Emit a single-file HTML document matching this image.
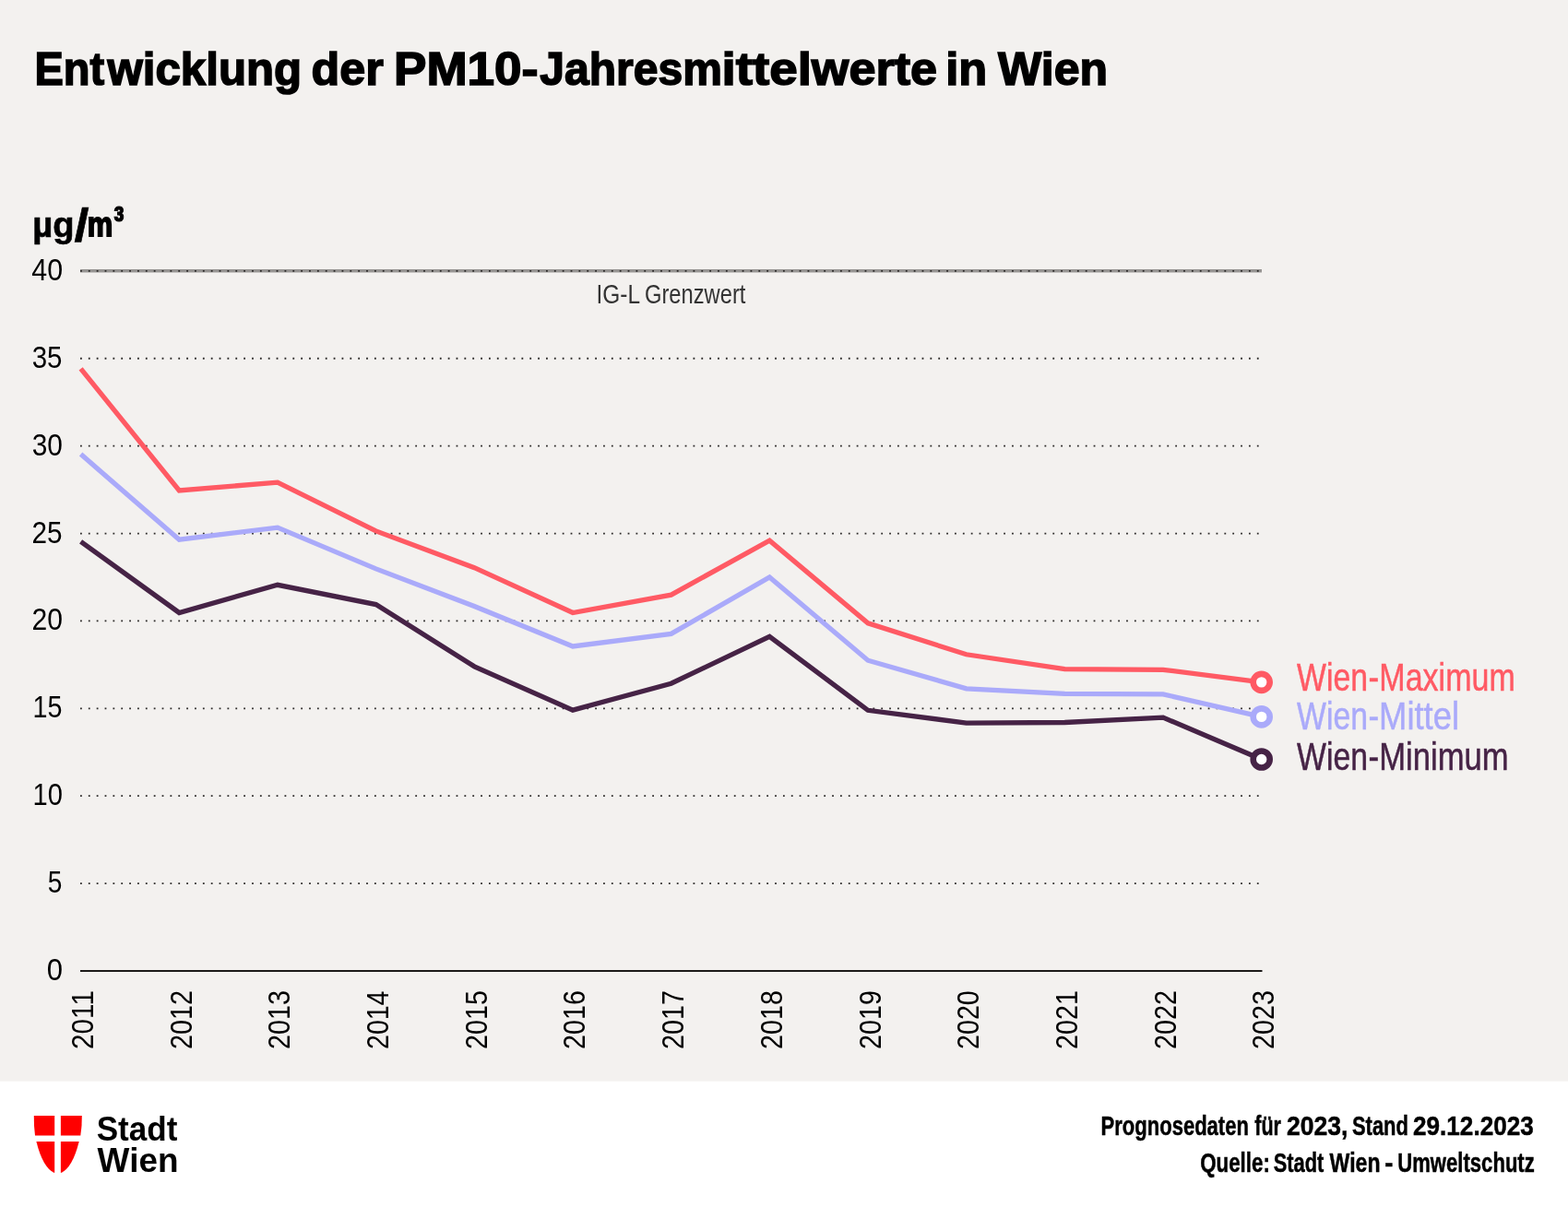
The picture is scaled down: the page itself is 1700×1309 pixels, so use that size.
<!DOCTYPE html>
<html lang="de">
<head>
<meta charset="utf-8">
<title>Entwicklung der PM10-Jahresmittelwerte in Wien</title>
<style>
html,body{margin:0;padding:0;background:#fff}
svg{display:block}
text{font-family:"Liberation Sans",sans-serif}
</style>
</head>
<body>
<svg width="1700" height="1309" viewBox="0 0 1700 1309">
<rect x="0" y="0" width="1700" height="1309" fill="#fff"/>
<rect x="0" y="0" width="1700" height="1172.6" fill="#f3f1ef"/>
<g id="grid">
<line x1="87.0" y1="293.72" x2="1368.0" y2="293.72" stroke="#979593" stroke-width="3.35"/>
<line x1="87.0" y1="293.84" x2="1368.0" y2="293.84" stroke="#2d2b2a" stroke-width="1.8" stroke-dasharray="1.8 7.06"/>
<line x1="87.0" y1="388.74" x2="1368.0" y2="388.74" stroke="#2d2b2a" stroke-width="1.8" stroke-dasharray="1.8 7.06"/>
<line x1="87.0" y1="483.63" x2="1368.0" y2="483.63" stroke="#2d2b2a" stroke-width="1.8" stroke-dasharray="1.8 7.06"/>
<line x1="87.0" y1="578.53" x2="1368.0" y2="578.53" stroke="#2d2b2a" stroke-width="1.8" stroke-dasharray="1.8 7.06"/>
<line x1="87.0" y1="673.42" x2="1368.0" y2="673.42" stroke="#2d2b2a" stroke-width="1.8" stroke-dasharray="1.8 7.06"/>
<line x1="87.0" y1="768.32" x2="1368.0" y2="768.32" stroke="#2d2b2a" stroke-width="1.8" stroke-dasharray="1.8 7.06"/>
<line x1="87.0" y1="863.21" x2="1368.0" y2="863.21" stroke="#2d2b2a" stroke-width="1.8" stroke-dasharray="1.8 7.06"/>
<line x1="87.0" y1="958.11" x2="1368.0" y2="958.11" stroke="#2d2b2a" stroke-width="1.8" stroke-dasharray="1.8 7.06"/>
<line x1="87.0" y1="1053" x2="1368.5" y2="1053" stroke="#1c1a19" stroke-width="2"/>
</g>
<g id="series">
<polyline points="87.60,399.80 194.28,532.00 300.95,523.10 407.62,575.90 514.30,615.70 620.98,664.50 727.65,645.10 834.33,586.20 941.00,675.85 1047.68,709.75 1154.35,725.60 1261.03,726.30 1367.70,739.85" fill="none" stroke="#ff5a64" stroke-width="5.3" stroke-linejoin="miter" stroke-miterlimit="10"/>
<circle cx="1367.70" cy="739.85" r="9" fill="#fff" stroke="#ff5a64" stroke-width="6.6"/>
<polyline points="87.60,492.60 194.28,585.20 300.95,572.10 407.62,616.90 514.30,657.50 620.98,701.00 727.65,687.40 834.33,625.90 941.00,716.20 1047.68,746.80 1154.35,752.40 1261.03,752.85 1367.70,777.40" fill="none" stroke="#aaaafa" stroke-width="5.3" stroke-linejoin="miter" stroke-miterlimit="10"/>
<circle cx="1367.70" cy="777.40" r="9" fill="#fff" stroke="#aaaafa" stroke-width="6.6"/>
<polyline points="87.60,587.40 194.28,664.50 300.95,634.30 407.62,655.60 514.30,722.80 620.98,770.10 727.65,741.20 834.33,690.40 941.00,770.30 1047.68,784.10 1154.35,783.50 1261.03,778.10 1367.70,823.50" fill="none" stroke="#462346" stroke-width="5.3" stroke-linejoin="miter" stroke-miterlimit="10"/>
<circle cx="1367.70" cy="823.50" r="9" fill="#fff" stroke="#462346" stroke-width="6.6"/>
</g>
<g id="shield" fill="#ff0000">
<path d="M36.8 1210 H59.2 V1231.5 H38.0 Q36.6 1221 36.8 1210Z"/>
<path d="M65.9 1210 H88.8 Q89.0 1221 87.3 1231.5 H65.9Z"/>
<path d="M39.4 1237.9 H59.2 V1272.1 Q46.5 1266.5 39.4 1237.9Z"/>
<path d="M65.9 1237.9 H85.7 Q78.6 1266.5 65.9 1272.1Z"/>
</g>
<g id="labels">
<text id="title" y="91.60" font-size="50.73" font-weight="bold" fill="#000" stroke="#000" stroke-width="1.6" stroke-linejoin="miter"><tspan x="37.48" textLength="75.74" lengthAdjust="spacingAndGlyphs">Ent</tspan><tspan x="116.51" textLength="210.61" lengthAdjust="spacingAndGlyphs">wicklung</tspan> <tspan x="337.56" textLength="78.18" lengthAdjust="spacingAndGlyphs">der</tspan> <tspan x="427.09" textLength="138.52" lengthAdjust="spacingAndGlyphs">PM10</tspan><tspan x="565.46" textLength="18.06" lengthAdjust="spacingAndGlyphs">-</tspan><tspan x="585.24" textLength="197.64" lengthAdjust="spacingAndGlyphs">Jahresm</tspan><tspan x="782.43" textLength="97.46" lengthAdjust="spacingAndGlyphs">ittel</tspan><tspan x="879.89" textLength="136.24" lengthAdjust="spacingAndGlyphs">werte</tspan> <tspan x="1025.25" textLength="45.08" lengthAdjust="spacingAndGlyphs">in</tspan> <tspan x="1081.99" textLength="119.20" lengthAdjust="spacingAndGlyphs">Wien</tspan></text>
<text id="unit" y="256.50" font-size="38" font-weight="bold" fill="#000" stroke="#000" stroke-width="0.6" stroke-linejoin="miter"><tspan x="35.34" y="256.50" textLength="45.33" lengthAdjust="spacingAndGlyphs">µg</tspan><tspan x="80.60" y="261.40" font-size="50.0" textLength="15.99" lengthAdjust="spacingAndGlyphs">/</tspan><tspan x="94.77" y="255.90" font-size="36.0" stroke="#000" stroke-width="1.8" textLength="27.50" lengthAdjust="spacingAndGlyphs">m</tspan><tspan x="123.15" y="254.90" font-size="45.0" stroke="#000" stroke-width="1.2" textLength="11.31" lengthAdjust="spacingAndGlyphs">³</tspan></text>
<text id="y40" y="303.84" font-size="32.5" font-weight="normal" fill="#000"><tspan x="34.30" textLength="33.78" lengthAdjust="spacingAndGlyphs">40</tspan></text>
<text id="y35" y="398.74" font-size="32.5" font-weight="normal" fill="#000"><tspan x="34.67" textLength="32.81" lengthAdjust="spacingAndGlyphs">35</tspan></text>
<text id="y30" y="493.63" font-size="32.5" font-weight="normal" fill="#000"><tspan x="34.65" textLength="33.21" lengthAdjust="spacingAndGlyphs">30</tspan></text>
<text id="y25" y="588.53" font-size="32.5" font-weight="normal" fill="#000"><tspan x="34.43" textLength="33.06" lengthAdjust="spacingAndGlyphs">25</tspan></text>
<text id="y20" y="683.42" font-size="32.5" font-weight="normal" fill="#000"><tspan x="34.41" textLength="33.46" lengthAdjust="spacingAndGlyphs">20</tspan></text>
<text id="y15" y="778.32" font-size="32.5" font-weight="normal" fill="#000"><tspan x="35.49" textLength="31.95" lengthAdjust="spacingAndGlyphs">15</tspan></text>
<text id="y10" y="873.21" font-size="32.5" font-weight="normal" fill="#000"><tspan x="35.46" textLength="32.37" lengthAdjust="spacingAndGlyphs">10</tspan></text>
<text id="y5" y="968.11" font-size="32.5" font-weight="normal" fill="#000"><tspan x="51.72" textLength="15.63" lengthAdjust="spacingAndGlyphs">5</tspan></text>
<text id="y0" y="1063.00" font-size="32.5" font-weight="normal" fill="#000"><tspan x="50.81" textLength="17.26" lengthAdjust="spacingAndGlyphs">0</tspan></text>
<text id="igl" y="328.90" font-size="29.0" font-weight="normal" fill="#333"><tspan x="646.53" textLength="46.62" lengthAdjust="spacingAndGlyphs">IG-L</tspan> <tspan x="698.97" textLength="109.44" lengthAdjust="spacingAndGlyphs">Grenzwert</tspan></text>
<text id="leg1" y="748.65" font-size="42.5" font-weight="normal" fill="#ff5a64" stroke="#ff5a64" stroke-width="0.5" stroke-linejoin="miter"><tspan x="1406.00" textLength="76.96" lengthAdjust="spacingAndGlyphs">Wien</tspan><tspan x="1483.46" textLength="11.71" lengthAdjust="spacingAndGlyphs">-</tspan><tspan x="1495.30" textLength="147.56" lengthAdjust="spacingAndGlyphs">Maximum</tspan></text>
<text id="leg2" y="791.35" font-size="42.5" font-weight="normal" fill="#aaaafa" stroke="#aaaafa" stroke-width="0.5" stroke-linejoin="miter"><tspan x="1406.00" textLength="76.96" lengthAdjust="spacingAndGlyphs">Wien</tspan><tspan x="1483.46" textLength="11.71" lengthAdjust="spacingAndGlyphs">-</tspan><tspan x="1495.12" textLength="86.86" lengthAdjust="spacingAndGlyphs">Mittel</tspan></text>
<text id="leg3" y="834.75" font-size="42.5" font-weight="normal" fill="#462346" stroke="#462346" stroke-width="0.5" stroke-linejoin="miter"><tspan x="1406.00" textLength="76.96" lengthAdjust="spacingAndGlyphs">Wien</tspan><tspan x="1483.46" textLength="11.71" lengthAdjust="spacingAndGlyphs">-</tspan><tspan x="1495.25" textLength="140.38" lengthAdjust="spacingAndGlyphs">Minimum</tspan></text>
<text id="x2011" transform="matrix(0 -0.8873 1 0 101.10 1137.95)" font-size="33.5" font-weight="normal" fill="#000">2011</text>
<text id="x2012" transform="matrix(0 -0.8592 1 0 207.78 1137.90)" font-size="33.5" font-weight="normal" fill="#000">2012</text>
<text id="x2013" transform="matrix(0 -0.8561 1 0 314.45 1137.90)" font-size="33.5" font-weight="normal" fill="#000">2013</text>
<text id="x2014" transform="matrix(0 -0.8502 1 0 421.12 1137.89)" font-size="33.5" font-weight="normal" fill="#000">2014</text>
<text id="x2015" transform="matrix(0 -0.8561 1 0 527.80 1137.90)" font-size="33.5" font-weight="normal" fill="#000">2015</text>
<text id="x2016" transform="matrix(0 -0.8561 1 0 634.48 1137.90)" font-size="33.5" font-weight="normal" fill="#000">2016</text>
<text id="x2017" transform="matrix(0 -0.8592 1 0 741.15 1137.90)" font-size="33.5" font-weight="normal" fill="#000">2017</text>
<text id="x2018" transform="matrix(0 -0.8561 1 0 847.83 1137.90)" font-size="33.5" font-weight="normal" fill="#000">2018</text>
<text id="x2019" transform="matrix(0 -0.8561 1 0 954.50 1137.90)" font-size="33.5" font-weight="normal" fill="#000">2019</text>
<text id="x2020" transform="matrix(0 -0.8531 1 0 1061.18 1137.89)" font-size="33.5" font-weight="normal" fill="#000">2020</text>
<text id="x2021" transform="matrix(0 -0.8561 1 0 1167.85 1137.90)" font-size="33.5" font-weight="normal" fill="#000">2021</text>
<text id="x2022" transform="matrix(0 -0.8592 1 0 1274.53 1137.90)" font-size="33.5" font-weight="normal" fill="#000">2022</text>
<text id="x2023" transform="matrix(0 -0.8561 1 0 1381.20 1137.90)" font-size="33.5" font-weight="normal" fill="#000">2023</text>
<text id="logo1" y="1237.00" font-size="36.9" font-weight="bold" fill="#000"><tspan x="104.71" textLength="87.75" lengthAdjust="spacingAndGlyphs">Stadt</tspan></text>
<text id="logo2" y="1271.20" font-size="36.9" font-weight="bold" fill="#000"><tspan x="105.60" textLength="87.90" lengthAdjust="spacingAndGlyphs">Wien</tspan></text>
<text id="foot1" y="1231.35" font-size="29.65" font-weight="bold" fill="#000" stroke="#000" stroke-width="0.5" stroke-linejoin="miter"><tspan x="1193.50" textLength="160.42" lengthAdjust="spacingAndGlyphs">Prognosedaten</tspan> <tspan x="1360.32" textLength="28.67" lengthAdjust="spacingAndGlyphs">für</tspan> <tspan x="1395.03" textLength="66.48" lengthAdjust="spacingAndGlyphs">2023,</tspan> <tspan x="1465.93" textLength="61.05" lengthAdjust="spacingAndGlyphs">Stand</tspan> <tspan x="1532.04" textLength="130.72" lengthAdjust="spacingAndGlyphs">29.12.2023</tspan></text>
<text id="foot2" y="1270.85" font-size="29.65" font-weight="bold" fill="#000" stroke="#000" stroke-width="0.5" stroke-linejoin="miter"><tspan x="1301.15" textLength="75.73" lengthAdjust="spacingAndGlyphs">Quelle:</tspan> <tspan x="1380.73" textLength="54.65" lengthAdjust="spacingAndGlyphs">Stadt</tspan> <tspan x="1441.59" textLength="54.91" lengthAdjust="spacingAndGlyphs">Wien</tspan> <tspan x="1501.17" textLength="9.13" lengthAdjust="spacingAndGlyphs">-</tspan> <tspan x="1515.28" textLength="148.50" lengthAdjust="spacingAndGlyphs">Umweltschutz</tspan></text>
</g>
</svg>
</body>
</html>
